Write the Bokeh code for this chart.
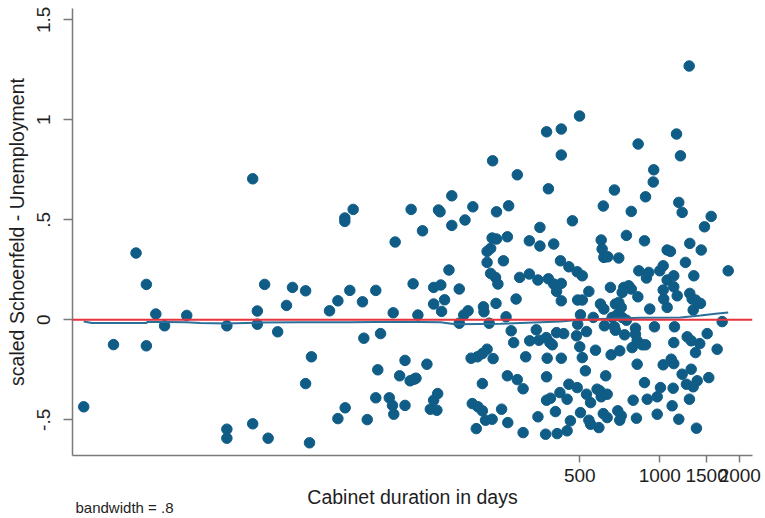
from bokeh.plotting import figure
from bokeh.models import Range1d, FixedTicker, CustomJSTickFormatter, NumeralTickFormatter, Span, Title
from bokeh.embed import file_html
from bokeh.resources import INLINE

# Cabinet duration (days) and scaled Schoenfeld residuals for Unemployment
duration = [
    6.8, 8.8, 10.7, 11.7, 11.7, 12.7, 13.7, 16.6, 23.5, 23.5,
    23.5, 29.4, 29.4, 30.6, 30.6, 32.6, 33.6, 36.5, 39.4, 41.5,
    46.5, 46.5, 48.9, 48.1, 57.2, 61.5, 61.5, 65.3, 65.3, 65.5,
    68.2, 70.2, 76.1, 77.0, 79.3, 85.4, 85.4, 86.9, 89.0, 96.0,
    98.7, 99.8, 99.3, 101, 110, 110, 105, 115, 119, 121,
    116, 118, 123, 128, 133, 137, 141, 146, 145, 141,
    150, 141, 155, 151, 147, 149, 161, 165, 165, 176,
    176, 185, 183, 190, 195, 198, 197, 206, 207, 204,
    215, 215, 215, 217, 218, 224, 221, 224, 224, 228,
    231, 231, 234, 234, 235, 236, 241, 242, 243, 243,
    246, 254, 258, 264, 267, 267, 268, 270, 276, 282,
    288, 291, 291, 297, 306, 306, 313, 323, 323, 324,
    343, 348, 348, 351, 354, 354, 374, 375, 375, 375,
    372, 377, 381, 381, 386, 388, 394, 399, 399,
    405, 409, 409, 411, 421, 423, 426, 426, 426, 426,
    426, 435, 448, 448, 455, 455, 461, 469, 486, 489,
    489, 491, 491, 499, 500, 503, 503, 511, 511, 511,
    525, 530, 530, 541, 541, 549, 549, 562, 573, 581,
    590, 595, 598, 602, 602, 607, 613, 613, 616, 616,
    619, 626, 634, 634, 637, 652, 656, 662, 675, 675,
    681, 681, 691, 695, 701, 701, 707, 707, 716, 716,
    722, 722, 732, 737, 749, 749, 764, 781, 781, 787,
    794, 810, 810, 817, 822, 822, 827, 829, 834, 859,
    876, 876, 884, 884, 891, 897, 909, 917, 945, 949,
    955, 978, 978, 1000, 1006, 1030, 1030, 1030, 1035, 1066,
    1066, 1066, 1097, 1104, 1113, 1123, 1129, 1129, 1129, 1136,
    1129, 1156, 1163, 1179, 1179, 1196, 1214, 1214, 1249, 1260,
    1268, 1290, 1293, 1297, 1297, 1313, 1313, 1324, 1336, 1336,
    1343, 1363, 1363, 1374, 1383, 1414, 1423, 1432, 1473, 1508,
    1529, 1561, 1644, 1717, 1809,
]
residual = [
    -0.435, -0.124, 0.334, 0.177, -0.13, 0.029, -0.03, 0.022, -0.03, -0.547,
    -0.592, 0.705, -0.52, 0.044, -0.022, 0.177, -0.592, -0.06, 0.072, 0.162,
    0.145, -0.319, -0.185, -0.615, 0.045, 0.095, -0.494, 0.509, 0.492, -0.44,
    0.147, 0.552, 0.09, -0.092, -0.499, 0.147, -0.39, -0.25, -0.069, -0.39,
    -0.428, -0.472, 0.035, 0.389, -0.203, -0.428, -0.28, -0.305, -0.297, -0.292,
    0.552, 0.18, 0.024, 0.445, -0.222, -0.447, -0.402, -0.369, -0.452, 0.162,
    0.174, 0.079, 0.1, 0.042, 0.549, 0.54, 0.249, 0.62, 0.472, 0.154,
    -0.017, 0.499, 0.024, 0.045, -0.192, 0.565, -0.419, -0.185, -0.435, -0.544,
    -0.169, -0.455, -0.319, 0.065, 0.04, -0.147, -0.502, 0.342, 0.287, -0.017,
    0.357, 0.232, 0.409, -0.497, 0.795, -0.194, 0.212, 0.082, 0.54, 0.404,
    0.179, -0.447, 0.295, 0.015, 0.415, -0.28, -0.514, 0.57, -0.055, -0.114,
    0.104, 0.725, -0.299, 0.212, -0.345, -0.564, -0.185, 0.229, 0.395, -0.105,
    -0.05, 0.199, -0.485, -0.102, 0.462, 0.369, -0.089, 0.94, -0.285, -0.402,
    -0.572, -0.192, 0.655, 0.205, -0.114, -0.392, -0.125, 0.179, 0.379,
    -0.459, 0.142, -0.064, -0.569, -0.364, 0.295, 0.954, 0.824, 0.182, 0.095,
    -0.192, -0.069, -0.397, -0.555, 0.265, -0.322, -0.505, 0.495, -0.08, 0.24,
    -0.339, 0.099, -0.022, 1.019, -0.135, 0.025, -0.464, 0.22, 0.099, -0.189,
    -0.255, -0.059, -0.372, 0.142, -0.502, -0.414, -0.522, 0.012, -0.152, -0.347,
    -0.539, -0.355, 0.079, -0.385, 0.399, 0.354, 0.569, -0.469, 0.312, 0.054,
    -0.03, -0.28, -0.372, -0.489, 0.315, 0.162, -0.175, 0.012, 0.649, -0.035,
    0.079, -0.052, 0.025, -0.455, 0.309, 0.087, -0.155, -0.502, 0.062, -0.48,
    0.012, 0.137, 0.162, -0.075, -0.002, 0.422, 0.17, 0.542, 0.154, -0.139,
    -0.402, -0.042, -0.072, -0.492, -0.105, -0.222, 0.115, 0.879, 0.245, -0.125,
    0.395, -0.314, 0.615, -0.125, 0.209, -0.397, 0.237, 0.054, 0.689, 0.75,
    -0.035, -0.385, -0.472, 0.245, -0.339, 0.27, 0.149, -0.225, 0.104, 0.349,
    0.199, 0.062, 0.342, -0.197, -0.43, -0.342, 0.22, 0.165, -0.219, -0.035,
    -0.114, 0.929, 0.12, 0.587, -0.497, 0.82, 0.537, -0.272, 0.287, -0.322,
    -0.085, 1.269, -0.397, 0.382, 0.132, -0.105, -0.247, 0.104, 0.049, -0.335,
    0.22, 0.099, -0.164, -0.542, -0.305, -0.119, 0.082, 0.349, 0.465, -0.069,
    -0.289, 0.517, -0.147, -0.009, 0.245,
]
assert len(duration) == len(residual)

# lowess smooth (bandwidth = .8)
smooth_x = [6.8, 7.3, 11.7, 11.8, 16.5, 18.7, 23.4, 30.6, 44.5, 68.6, 105.8, 149.6,
            170, 252, 299, 423, 503, 598, 846, 1196, 1423, 1620, 1809]
smooth_y = [-0.008, -0.016, -0.016, -0.01, -0.012, -0.016, -0.018, -0.014, -0.012,
            -0.012, -0.01, -0.012, -0.022, -0.02, -0.016, -0.008, 0.0, 0.004, 0.01,
            0.012, 0.022, 0.03, 0.036]

x_ticks = [500, 1000, 1500, 2000]
y_ticks = [-0.5, 0, 0.5, 1, 1.5]

FONT = "Liberation Sans"
TXT = "#1e1e1e"
AX = "#7a7a7a"

p = figure(width=765, height=518, x_axis_type="log",
           x_range=Range1d(6.17, 2233), y_range=Range1d(-0.6785, 1.5565),
           output_backend="svg", toolbar_location=None,
           min_border_left=72, min_border_right=13, min_border_top=8, min_border_bottom=63)
p.outline_line_color = None
p.xgrid.visible = False
p.ygrid.visible = False
p.background_fill_color = "white"
p.border_fill_color = "white"

p.scatter(duration, residual, size=10.5, fill_color="#0f5c86", line_color="#0f5c86")
p.line(smooth_x, smooth_y, line_color="#2b6f9b", line_width=2)
p.add_layout(Span(location=0, dimension="width", line_color="#e8333c", line_width=2))

xa = p.xaxis[0]
xa.ticker = FixedTicker(ticks=x_ticks, minor_ticks=[])
xa.formatter = NumeralTickFormatter(format="0")
xa.axis_label = "Cabinet duration in days"
xa.axis_label_text_font = FONT
xa.axis_label_text_font_style = "normal"
xa.axis_label_text_font_size = "19.5px"
xa.axis_label_text_color = TXT
xa.axis_label_standoff = 1
xa.major_label_text_font = FONT
xa.major_label_text_font_size = "19px"
xa.major_label_text_color = TXT
xa.major_label_standoff = 6
xa.major_tick_out = 7
xa.major_tick_in = 0
xa.minor_tick_out = 0
xa.minor_tick_in = 0
xa.axis_line_color = AX
xa.axis_line_width = 1.5
xa.major_tick_line_color = AX
xa.major_tick_line_width = 1.5

ya = p.yaxis[0]
ya.ticker = FixedTicker(ticks=y_ticks, minor_ticks=[])
ya.formatter = CustomJSTickFormatter(code="return tick.toString().replace('0.', '.');")
ya.major_label_orientation = "vertical"
ya.axis_label = "scaled Schoenfeld - Unemployment"
ya.axis_label_text_font = FONT
ya.axis_label_text_font_style = "normal"
ya.axis_label_text_font_size = "19.5px"
ya.axis_label_text_color = TXT
ya.axis_label_standoff = 7
ya.major_label_text_font = FONT
ya.major_label_text_font_size = "19px"
ya.major_label_text_color = TXT
ya.major_label_standoff = 13
ya.major_tick_out = 9
ya.major_tick_in = 0
ya.minor_tick_out = 0
ya.minor_tick_in = 0
ya.axis_line_color = AX
ya.axis_line_width = 1.5
ya.major_tick_line_color = AX
ya.major_tick_line_width = 1.5

note = Title(text="bandwidth = .8", align="left", vertical_align="top", offset=3,
             standoff=-24, text_font=FONT, text_font_size="15px",
             text_font_style="normal", text_color=TXT)
p.add_layout(note, "below")

open("out.html", "w").write(file_html(p, INLINE))
